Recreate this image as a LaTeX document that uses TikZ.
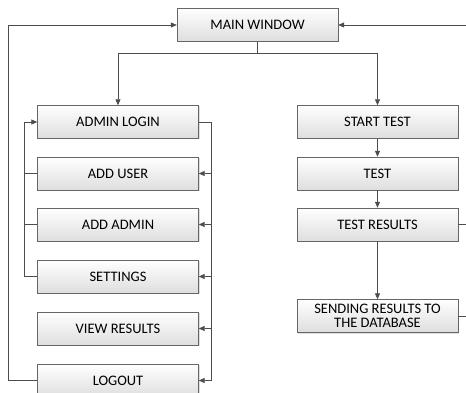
\documentclass[tikz,border=0pt]{standalone}
\usepackage{fontspec}
\setmainfont{Carlito}
\usetikzlibrary{arrows.meta,shadows}
\begin{document}
\begin{tikzpicture}[x=1pt,y=-1pt,
 box/.style={draw=black!60, top color=white, bottom color=black!13, minimum width=161pt, minimum height=33pt, inner sep=0pt, font=\fontsize{14.5}{14}\selectfont, text=black, align=center, drop shadow={shadow xshift=1pt,shadow yshift=-1pt,opacity=0.25}},
 conn/.style={draw=black!70, line width=0.8pt},
 arr/.style={conn, -{Triangle[length=6pt,width=5pt]}}]
\useasboundingbox (0,0) rectangle (466,393);
\node[box] (main) at (257.5,25) {MAIN WINDOW};
\node[box] (login) at (118,122) {ADMIN LOGIN};
\node[box] (adduser) at (118,173.5) {ADD USER};
\node[box] (addadmin) at (118,224.5) {ADD ADMIN};
\node[box] (settings) at (118,276.5) {SETTINGS};
\node[box] (view) at (118,328.5) {VIEW RESULTS};
\node[box] (logout) at (118,380.5) {LOGOUT};
\node[box] (start) at (377.5,122) {START TEST};
\node[box] (test) at (377.5,173.5) {TEST};
\node[box] (results) at (377.5,224.5) {TEST RESULTS};
\node[box] (send) at (377.5,316) {SENDING RESULTS TO\\THE DATABASE};
% top split
\coordinate (split) at (257.5,53);
\draw[conn] (main.south) -- (split);
\draw[arr] (split) -| (login.north);
\draw[arr] (split) -| (start.north);
% right column
\draw[arr] (start.south) -- (test.north);
\draw[arr] (test.south) -- (results.north);
\draw[arr] (results.south) -- (send.north);
\coordinate (rtop) at (466,25);
\coordinate (r1) at (466,224.5);
\coordinate (r2) at (466,316);
\draw[arr] (rtop) -- (main.east);
\draw[conn] (results.east) -- (r1);
\draw[conn] (send.east) -- (r2);
% left bracket
\coordinate (lbar) at (24,276.5);
\draw[arr] (settings.west) -- (lbar) |- (login.west);
\draw[conn] (adduser.west) -- (adduser.west -| lbar);
\draw[conn] (addadmin.west) -- (addadmin.west -| lbar);
% right bracket
\coordinate (rbar) at (211,380.5);
\draw[conn] (login.east) -| (rbar);
\draw[arr] (adduser.east -| rbar) -- (adduser.east);
\draw[arr] (addadmin.east -| rbar) -- (addadmin.east);
\draw[arr] (settings.east -| rbar) -- (settings.east);
\draw[arr] (view.east -| rbar) -- (view.east);
\draw[arr] (rbar) -- (logout.east);
% outer loop
\coordinate (outer) at (8,380.5);
\draw[arr] (logout.west) -- (outer) |- (main.west);
\end{tikzpicture}
\end{document}
